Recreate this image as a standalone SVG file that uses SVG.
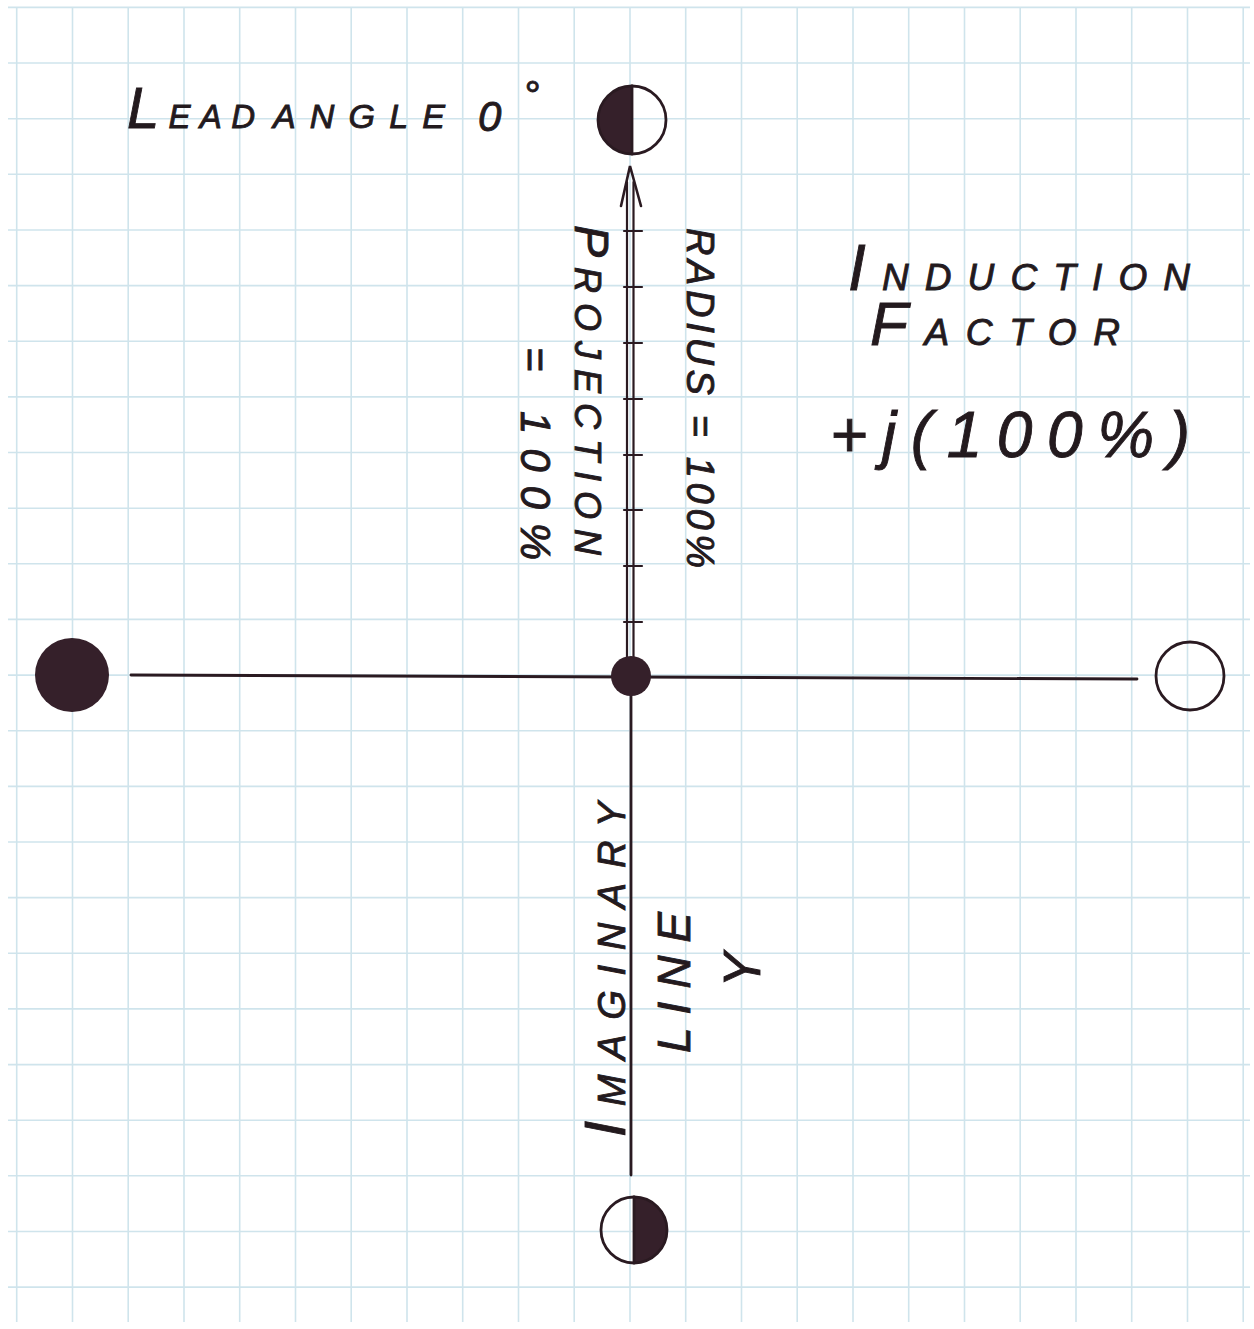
<svg xmlns="http://www.w3.org/2000/svg" width="1254" height="1329" viewBox="0 0 1254 1329">
  <defs>
    <style>
      .grid line { stroke: #cfe4ec; stroke-width: 1.6; }
      .ink { stroke: #2a1a21; stroke-width: 2.8; fill: none; stroke-linecap: round; }
      .fill { fill: #35202a; }
      .t { font-family: "Liberation Sans", Arial, sans-serif; font-style: italic; fill: #231a1e; stroke: #231a1e; stroke-width: 0.9; }
    </style>
  </defs>
  <rect x="0" y="0" width="1254" height="1329" fill="#ffffff"/>
  <g id="grid" class="grid">
    <line x1="16.7" y1="7" x2="16.7" y2="1322"/>
    <line x1="72.5" y1="7" x2="72.5" y2="1322"/>
    <line x1="128.2" y1="7" x2="128.2" y2="1322"/>
    <line x1="184" y1="7" x2="184" y2="1322"/>
    <line x1="239.7" y1="7" x2="239.7" y2="1322"/>
    <line x1="295.5" y1="7" x2="295.5" y2="1322"/>
    <line x1="351.2" y1="7" x2="351.2" y2="1322"/>
    <line x1="407" y1="7" x2="407" y2="1322"/>
    <line x1="462.7" y1="7" x2="462.7" y2="1322"/>
    <line x1="518.5" y1="7" x2="518.5" y2="1322"/>
    <line x1="574.2" y1="7" x2="574.2" y2="1322"/>
    <line x1="630" y1="7" x2="630" y2="1322"/>
    <line x1="685.7" y1="7" x2="685.7" y2="1322"/>
    <line x1="741.5" y1="7" x2="741.5" y2="1322"/>
    <line x1="797.2" y1="7" x2="797.2" y2="1322"/>
    <line x1="853" y1="7" x2="853" y2="1322"/>
    <line x1="908.7" y1="7" x2="908.7" y2="1322"/>
    <line x1="964.5" y1="7" x2="964.5" y2="1322"/>
    <line x1="1020.2" y1="7" x2="1020.2" y2="1322"/>
    <line x1="1076" y1="7" x2="1076" y2="1322"/>
    <line x1="1131.7" y1="7" x2="1131.7" y2="1322"/>
    <line x1="1187.5" y1="7" x2="1187.5" y2="1322"/>
    <line x1="1243.2" y1="7" x2="1243.2" y2="1322"/>
    <line x1="8" y1="7.4" x2="1250" y2="7.4"/>
    <line x1="8" y1="63" x2="1250" y2="63"/>
    <line x1="8" y1="118.7" x2="1250" y2="118.7"/>
    <line x1="8" y1="174.3" x2="1250" y2="174.3"/>
    <line x1="8" y1="230" x2="1250" y2="230"/>
    <line x1="8" y1="285.6" x2="1250" y2="285.6"/>
    <line x1="8" y1="341.2" x2="1250" y2="341.2"/>
    <line x1="8" y1="396.9" x2="1250" y2="396.9"/>
    <line x1="8" y1="452.5" x2="1250" y2="452.5"/>
    <line x1="8" y1="508.2" x2="1250" y2="508.2"/>
    <line x1="8" y1="563.8" x2="1250" y2="563.8"/>
    <line x1="8" y1="619.4" x2="1250" y2="619.4"/>
    <line x1="8" y1="675.1" x2="1250" y2="675.1"/>
    <line x1="8" y1="730.7" x2="1250" y2="730.7"/>
    <line x1="8" y1="786.4" x2="1250" y2="786.4"/>
    <line x1="8" y1="842" x2="1250" y2="842"/>
    <line x1="8" y1="897.6" x2="1250" y2="897.6"/>
    <line x1="8" y1="953.3" x2="1250" y2="953.3"/>
    <line x1="8" y1="1008.9" x2="1250" y2="1008.9"/>
    <line x1="8" y1="1064.6" x2="1250" y2="1064.6"/>
    <line x1="8" y1="1120.2" x2="1250" y2="1120.2"/>
    <line x1="8" y1="1175.8" x2="1250" y2="1175.8"/>
    <line x1="8" y1="1231.5" x2="1250" y2="1231.5"/>
    <line x1="8" y1="1287.1" x2="1250" y2="1287.1"/>
  </g>

  <g id="connectors">
    <line class="ink" x1="131" y1="675" x2="1137" y2="679"/>
    <line class="ink" x1="627" y1="182" x2="627" y2="660" style="stroke-width:2.2"/>
    <line class="ink" x1="633.5" y1="182" x2="633.5" y2="660" style="stroke-width:2.2"/>
    <polyline class="ink" points="621,206 630,166 641,206" style="stroke-width:2.6"/>
    <g class="ink" style="stroke-width:2.2">
      <line x1="624" y1="231" x2="642" y2="231"/>
      <line x1="624" y1="287" x2="642" y2="287"/>
      <line x1="624" y1="343" x2="642" y2="343"/>
      <line x1="624" y1="399" x2="642" y2="399"/>
      <line x1="624" y1="455" x2="642" y2="455"/>
      <line x1="624" y1="510" x2="642" y2="510"/>
      <line x1="624" y1="566" x2="642" y2="566"/>
      <line x1="624" y1="622" x2="642" y2="622"/>
    </g>
    <line class="ink" x1="631" y1="694" x2="631" y2="1175"/>
  </g>

  <g id="node-top">
    <path class="fill" d="M632,86 A34,34 0 0 0 632,154 Z"/>
    <circle class="ink" cx="632" cy="120" r="34"/>
    <line class="ink" x1="632" y1="86" x2="632" y2="154"/>
  </g>
  <g id="node-bottom">
    <path class="fill" d="M634,1197 A33,33 0 0 1 634,1263 Z"/>
    <circle class="ink" cx="634" cy="1230" r="33"/>
    <line class="ink" x1="634" y1="1197" x2="634" y2="1263"/>
  </g>
  <g id="node-left">
    <circle class="fill" cx="72" cy="675" r="37"/>
  </g>
  <g id="node-right">
    <circle class="ink" cx="1190" cy="676" r="34"/>
  </g>
  <g id="node-center">
    <circle class="fill" cx="631" cy="676" r="20"/>
  </g>

  <g id="label-lead-angle">
    <text class="t" x="127" y="128" textLength="128" lengthAdjust="spacing"><tspan font-size="58">L</tspan><tspan font-size="33">EAD</tspan></text>
    <text class="t" x="273" y="128" font-size="34" textLength="172" lengthAdjust="spacing">ANGLE</text>
    <text class="t" x="478" y="131" font-size="42">0<tspan dx="22" dy="-22" font-size="40">°</tspan></text>
  </g>

  <g id="label-induction">
    <text class="t" x="848" y="290" textLength="342" lengthAdjust="spacing"><tspan font-size="64">I</tspan><tspan font-size="37">NDUCTION</tspan></text>
    <text class="t" x="870" y="345" textLength="250" lengthAdjust="spacing"><tspan font-size="62">F</tspan><tspan font-size="37">ACTOR</tspan></text>
    <text class="t" x="830" y="457" font-size="64" textLength="360" lengthAdjust="spacing">+j(100%)</text>
  </g>

  <g id="label-projection">
    <text class="t" transform="translate(575,225) rotate(90)" textLength="330" lengthAdjust="spacing"><tspan font-size="48">P</tspan><tspan font-size="36">ROJECTION</tspan></text>
    <text class="t" transform="translate(521,347) rotate(90)" font-size="42" textLength="213" lengthAdjust="spacing">= 100%</text>
  </g>

  <g id="label-radius">
    <text class="t" transform="translate(687,228) rotate(90)" font-size="38" textLength="340" lengthAdjust="spacing">RADIUS = 100%</text>
  </g>

  <g id="label-imaginary">
    <text class="t" transform="translate(625,1137) rotate(-90)" textLength="335" lengthAdjust="spacing"><tspan font-size="58">I</tspan><tspan font-size="38">MAGINARY</tspan></text>
    <text class="t" transform="translate(690,1053) rotate(-90)" font-size="46" textLength="141" lengthAdjust="spacing">LINE</text>
    <text class="t" transform="translate(760,970) rotate(-90)" font-size="52" text-anchor="middle">Y</text>
  </g>
</svg>
